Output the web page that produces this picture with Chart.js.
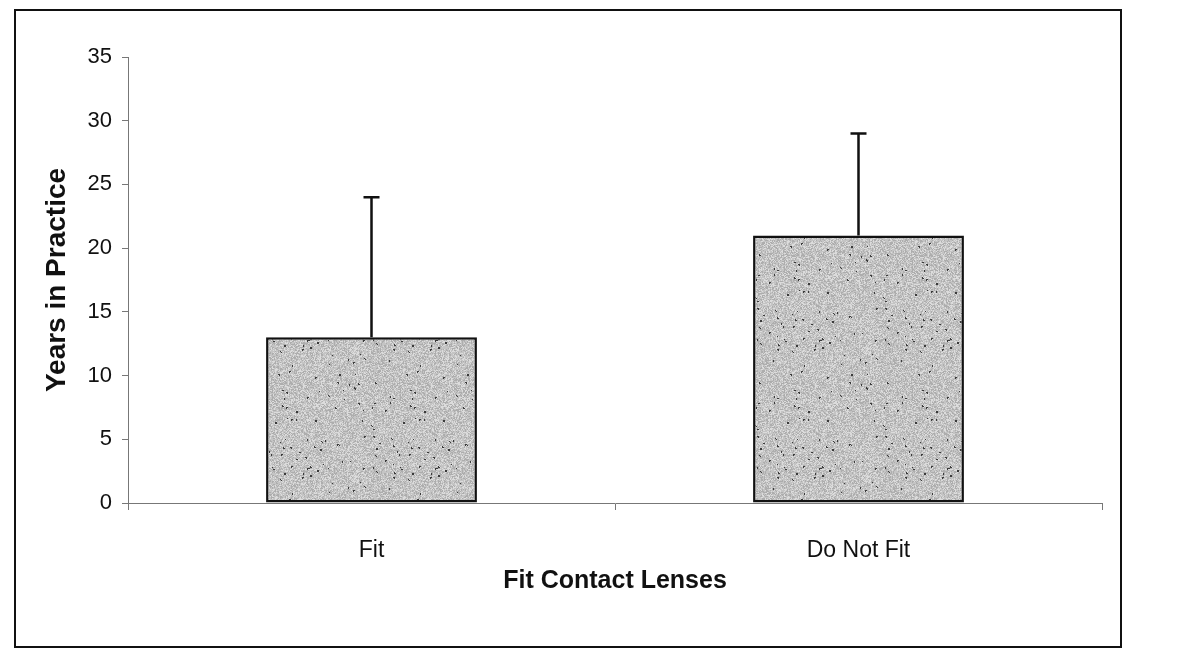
<!DOCTYPE html>
<html>
<head>
<meta charset="utf-8">
<script src="https://cdn.jsdelivr.net/npm/chart.js@4/dist/chart.umd.min.js"></script>
<style>
  body { margin: 0; background: #fff; }
  #frame {
    position: absolute; left: 14px; top: 9px;
    width: 1104px; height: 635px;
    border: 2px solid #111;
  }
</style>
</head>
<body>
<div id="frame"><canvas id="myChart" width="1104" height="635"></canvas></div>
<script>
// values
const categories = ['Fit', 'Do Not Fit'];
const meanYears = [13, 21];
const errorTop = [24, 29];   // upper end of each error bar
const yTicks = [0, 5, 10, 15, 20, 25, 30, 35];

// grey speckled fill like the scanned bars (fixed hash, texture only)
const makeSpeckle = () => {
  const c = document.createElement('canvas');
  c.width = 128; c.height = 128;
  const g = c.getContext('2d');
  g.fillStyle = '#c4c4c4';
  g.fillRect(0, 0, 128, 128);
  const hash = (x, y) => {
    const s = Math.sin(x * 12.9898 + y * 78.233) * 43758.5453;
    return s - Math.floor(s);
  };
  for (let y = 0; y < 128; y++) {
    for (let x = 0; x < 128; x++) {
      const h = hash(x, y);
      if (h < 0.3) { g.fillStyle = '#adadad'; g.fillRect(x, y, 1, 1); }
      else if (h > 0.75) { g.fillStyle = '#dcdcdc'; g.fillRect(x, y, 1, 1); }
      if (hash(x + 311, y + 97) < 0.006) {
        g.fillStyle = '#3a3a3a'; g.fillRect(x, y, 2, 2);
      }
    }
  }
  return g.createPattern(c, 'repeat');
};

const errorBars = {
  id: 'errorBars',
  afterDatasetsDraw(chart) {
    const ctx = chart.ctx;
    const yScale = chart.scales.y;
    const meta = chart.getDatasetMeta(0);
    ctx.save();
    ctx.strokeStyle = '#111';
    ctx.lineWidth = 2.5;
    meta.data.forEach((bar, i) => {
      const yt = yScale.getPixelForValue(errorTop[i]);
      ctx.beginPath();
      ctx.moveTo(bar.x, bar.y);
      ctx.lineTo(bar.x, yt);
      ctx.moveTo(bar.x - 8, yt);
      ctx.lineTo(bar.x + 8, yt);
      ctx.stroke();
    });
    ctx.restore();
  }
};

const data = {
  labels: categories,
  datasets: [{
    data: meanYears,
    backgroundColor: makeSpeckle(),
    borderColor: '#111',
    borderWidth: 2.5,
    borderSkipped: false,
    barPercentage: 0.433,
    categoryPercentage: 1
  }]
};

const config = {
  type: 'bar',
  data,
  plugins: [errorBars],
  options: {
    responsive: false,
    animation: false,
    layout: { padding: { left: 20, right: 18, top: 46, bottom: 50 } },
    plugins: { legend: { display: false }, tooltip: { enabled: false } },
    scales: {
      x: {
        afterFit: (s) => { s.height = 93; },
        grid: { drawOnChartArea: false, offset: true, tickLength: 7, color: '#777' },
        border: { color: '#777', width: 1 },
        ticks: { color: '#111', padding: 27, font: { family: 'Liberation Sans', size: 23 } },
        title: {
          display: true, text: 'Fit Contact Lenses', color: '#111',
          padding: { top: 0, bottom: 0 },
          font: { family: 'Liberation Sans', size: 25, weight: 'bold' }
        }
      },
      y: {
        min: 0, max: 35,
        afterFit: (s) => { s.width = 92; },
        afterBuildTicks: (s) => { s.ticks = yTicks.map(v => ({ value: v })); },
        grid: { drawOnChartArea: false, tickLength: 6, color: '#777' },
        border: { color: '#777', width: 1 },
        ticks: { color: '#111', padding: 10, font: { family: 'Liberation Sans', size: 22 } },
        title: {
          display: true, text: 'Years in Practice', color: '#111',
          padding: { top: 4, bottom: 0 },
          font: { family: 'Liberation Sans', size: 28, weight: 'bold' }
        }
      }
    }
  }
};

var myChart = new Chart(document.getElementById('myChart'), config);
</script>
</body>
</html>
